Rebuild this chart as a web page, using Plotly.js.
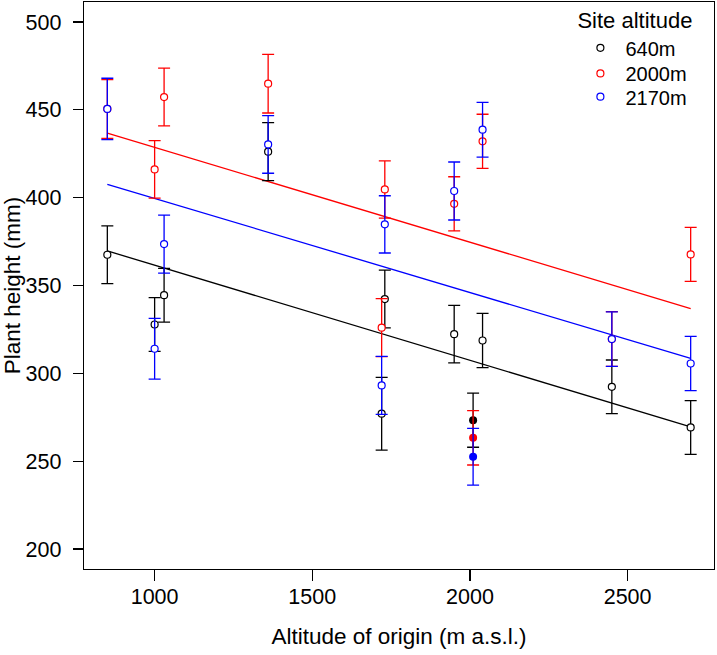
<!DOCTYPE html>
<html>
<head>
<meta charset="utf-8">
<script src="https://cdn.plot.ly/plotly-3.0.1.min.js"></script>
<style>html,body{margin:0;padding:0;background:#fff;}#chart{width:717px;height:655px;}</style>
</head>
<body>
<div id="chart"></div>
<script>
// Altitude of origin (m a.s.l.)
const origin = [850, 1000, 1030, 1360, 1720, 1730, 1950, 2040, 2450, 2700];
// Plant height means (mm) per site altitude
const h640  = [367.5, 327.8, 344.5, 426.2, 277.0, 342.3, 322.3, 318.7, 292.3, 269.2];
const h2000 = [450.5, 416.1, 457.3, 464.9, 326.0, 404.7, 396.5, 432.1, 319.5, 367.7];
const h2170 = [450.5, 314.0, 373.6, 430.3, 293.1, 384.8, 403.8, 438.7, 319.5, 305.6];
// Error half-widths (mm)
const e640  = [16.4, 15.3, 15.3, 16.5, 20.7, 16.4, 16.4, 15.4, 15.3, 15.3];
const e2000 = [16.7, 16.4, 16.4, 16.7, 16.5, 16.3, 15.4, 15.4, 15.6, 15.4];
const e2170 = [17.5, 17.3, 16.5, 16.4, 16.5, 16.3, 16.5, 15.6, 15.5, 15.4];
// Filled reference points
const refX = [2010];
const ref640 = [273.3], refE640 = [15.4];
const ref2000 = [263.3], refE2000 = [15.5];
const ref2170 = [252.5], refE2170 = [16.2];
// Fitted regression lines (endpoints)
const fitX = [850, 2700];
const fit640  = [369.7, 269.5];
const fit2000 = [436.7, 336.9];
const fit2170 = [407.6, 308.5];

const seriesNames = ['640m', '2000m', '2170m'];
const colors = ['#000000', '#FF0000', '#0000FF'];
const means = [h640, h2000, h2170];
const errs = [e640, e2000, e2170];
const refs = [ref640, ref2000, ref2170];
const refErrs = [refE640, refE2000, refE2170];
const fits = [fit640, fit2000, fit2170];
const legendIds = ['legend', 'legend2', 'legend3'];

const traces = [];
for (let i = 0; i < 3; i++) {
  traces.push({
    x: fitX, y: fits[i], mode: 'lines', type: 'scatter',
    line: {color: colors[i], width: 1.3}, showlegend: false, hoverinfo: 'skip'
  });
}
for (let i = 0; i < 3; i++) {
  traces.push({
    x: origin, y: means[i], mode: 'markers', type: 'scatter', name: seriesNames[i],
    legend: legendIds[i],
    marker: {symbol: 'circle', size: 7, color: '#ffffff', line: {color: colors[i], width: 1.2}},
    error_y: {type: 'data', array: errs[i], visible: true, color: colors[i], thickness: 1.3, width: 6}
  });
  traces.push({
    x: refX, y: refs[i], mode: 'markers', type: 'scatter', showlegend: false,
    marker: {symbol: 'circle', size: 8, color: colors[i]},
    error_y: {type: 'data', array: refErrs[i], visible: true, color: colors[i], thickness: 1.3, width: 6}
  });
}

const fam = 'Liberation Sans, Arial, sans-serif';
const tickFont = {family: fam, size: 21.5, color: '#000'};
const titleFont = {family: fam, size: 22.5, color: '#000'};
const legFont = {family: fam, size: 20, color: '#000'};
const legTitleFont = {family: fam, size: 22, color: '#000'};
const legX = 0.78;
function legendCfg(yv, anchor, title) {
  const c = {
    x: legX, xanchor: 'left', y: yv, yanchor: anchor,
    bgcolor: 'rgba(0,0,0,0)', borderwidth: 0,
    font: legFont, itemwidth: 40
  };
  if (title) c.title = {text: title, font: legTitleFont};
  return c;
}
const layout = {
  width: 717, height: 655,
  margin: {l: 84, r: 3, t: 2, b: 86, autoexpand: false},
  paper_bgcolor: '#fff', plot_bgcolor: '#fff',
  font: tickFont,
  showlegend: true,
  legend: legendCfg(1.004, 'top', 'Site altitude'),
  legend2: legendCfg(0.874, 'middle'),
  legend3: legendCfg(0.833, 'middle'),
  xaxis: {
    range: [776, 2774], tickvals: [1000, 1500, 2000, 2500],
    showgrid: false, zeroline: false,
    showline: true, linecolor: '#000', linewidth: 1.3, mirror: true,
    ticks: 'outside', ticklen: 11, tickwidth: 1.2, tickcolor: '#000',
    ticklabelstandoff: -3,
    tickfont: tickFont,
    title: {text: 'Altitude of origin (m a.s.l.)', font: titleFont, standoff: 20}
  },
  yaxis: {
    range: [188.6, 511.4], tickvals: [200, 250, 300, 350, 400, 450, 500],
    showgrid: false, zeroline: false,
    showline: true, linecolor: '#000', linewidth: 1.3, mirror: true,
    ticks: 'outside', ticklen: 10, tickwidth: 1.2, tickcolor: '#000',
    ticklabelstandoff: 7,
    tickfont: tickFont,
    title: {text: 'Plant height (mm)', font: titleFont, standoff: 2}
  }
};
Plotly.newPlot('chart', traces, layout, {displayModeBar: false, staticPlot: true});
</script>
</body>
</html>
